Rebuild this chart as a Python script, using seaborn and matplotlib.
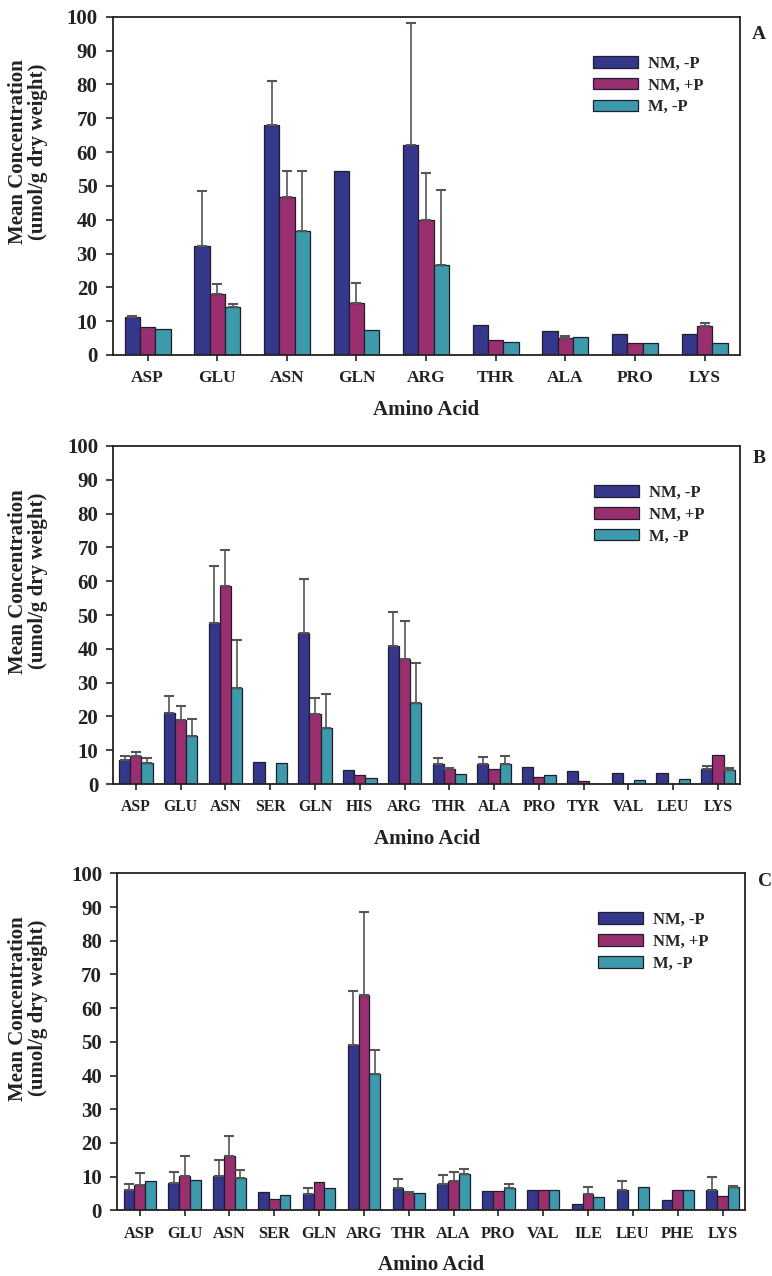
import numpy as np
import pandas as pd
import matplotlib
matplotlib.use("Agg")
import matplotlib.pyplot as plt
import seaborn as sns

sns.set_theme(style="white")
plt.rcParams['font.family'] = ['Liberation Serif', 'DejaVu Serif']
plt.rcParams['font.weight'] = 'bold'

groups = ["NM, -P", "NM, +P", "M, -P"]
colors = ["#34378a", "#9a2f70", "#3c9aab"]

# Panel A
cats_a = ["ASP", "GLU", "ASN", "GLN", "ARG", "THR", "ALA", "PRO", "LYS"]
a_nm_m = [11.2, 32.3, 68.0, 54.3, 62.0, 9.0, 7.2, 6.3, 6.3]
a_nm_p = [8.3, 18.1, 46.6, 15.4, 40.0, 4.5, 5.0, 3.5, 8.5]
a_m_m = [7.7, 14.3, 36.8, 7.4, 26.7, 3.7, 5.3, 3.5, 3.5]
a_err_nm_m = [0.3, 16.1, 13.0, 0, 36.2, 0, 0, 0, 0]
a_err_nm_p = [0, 2.9, 7.7, 5.9, 13.7, 0, 0.6, 0, 0.9]
a_err_m_m = [0, 0.7, 17.5, 0, 22.0, 0, 0, 0, 0]

# Panel B
cats_b = ["ASP", "GLU", "ASN", "SER", "GLN", "HIS", "ARG", "THR", "ALA", "PRO", "TYR", "VAL", "LEU", "LYS"]
b_nm_m = [7.1, 20.9, 47.6, 6.6, 44.8, 4.1, 40.9, 5.8, 5.8, 5.2, 4.0, 3.2, 3.4, 4.5]
b_nm_p = [8.4, 19.0, 58.7, 0.0, 20.6, 2.7, 36.9, 4.5, 4.5, 2.2, 0.8, 0.0, 0.0, 8.6]
b_m_m = [6.1, 14.2, 28.5, 6.3, 16.5, 1.7, 23.9, 3.0, 5.9, 2.7, 0.0, 1.1, 1.5, 4.2]
b_err_nm_m = [1.2, 5.1, 17.0, 0, 15.8, 0, 10.1, 2.0, 2.2, 0, 0, 0, 0, 1.0]
b_err_nm_p = [1.2, 4.2, 10.4, 0, 4.8, 0, 11.2, 0.3, 0, 0, 0, 0, 0, 0]
b_err_m_m = [1.7, 5.0, 14.1, 0, 10.1, 0, 11.8, 0, 2.5, 0, 0, 0, 0, 0.5]

# Panel C
cats_c = ["ASP", "GLU", "ASN", "SER", "GLN", "ARG", "THR", "ALA", "PRO", "VAL", "ILE", "LEU", "PHE", "LYS"]
c_nm_m = [6.1, 8.1, 10.1, 5.3, 4.7, 49.2, 6.5, 7.8, 5.6, 6.0, 1.8, 6.0, 3.0, 6.0]
c_nm_p = [7.6, 10.1, 16.0, 3.4, 8.4, 63.9, 5.2, 8.8, 5.6, 6.0, 4.9, 0.0, 6.0, 4.1]
c_m_m = [8.8, 9.1, 9.6, 4.5, 6.6, 40.6, 5.1, 10.8, 6.6, 6.0, 3.8, 7.0, 6.0, 6.8]
c_err_nm_m = [1.8, 3.2, 4.9, 0, 1.9, 15.8, 2.7, 2.8, 0, 0, 0, 2.8, 0, 3.8]
c_err_nm_p = [3.5, 6.1, 6.2, 0, 0, 24.7, 0.2, 2.5, 0, 0, 2.1, 0, 0, 0]
c_err_m_m = [0, 0, 2.3, 0, 0, 7.1, 0, 1.5, 1.2, 0, 0, 0, 0, 0.3]

# letter, cats, values, errors, axes rect, bar group width, xtick size, letter y, ylabel x
panels = [
    ("A", cats_a, [a_nm_m, a_nm_p, a_m_m], [a_err_nm_m, a_err_nm_p, a_err_m_m],
     [0.146, 0.7218, 0.812, 0.265], 0.66, 12.5, 0.947, -0.104),
    ("B", cats_b, [b_nm_m, b_nm_p, b_m_m], [b_err_nm_m, b_err_nm_p, b_err_m_m],
     [0.147, 0.3855, 0.812, 0.265], 0.75, 11.3, 0.962, -0.105),
    ("C", cats_c, [c_nm_m, c_nm_p, c_m_m], [c_err_nm_m, c_err_nm_p, c_err_m_m],
     [0.152, 0.0515, 0.813, 0.264], 0.72, 11.8, 0.976, -0.11),
]

fig = plt.figure(figsize=(7.72, 12.76), dpi=100)

for letter, cats, vals, errs, rect, w, xts, ly, ylx in panels:
    ax = fig.add_axes(rect)
    rows = []
    for g, v in zip(groups, vals):
        for c, val in zip(cats, v):
            rows.append({"aa": c, "val": val, "grp": g})
    df = pd.DataFrame(rows)
    sns.barplot(data=df, x="aa", y="val", hue="grp", order=cats, hue_order=groups,
                palette=colors, edgecolor="#1e1e2e", linewidth=0.9, width=w,
                errorbar=None, dodge=True, saturation=1, ax=ax)
    for cont, err in zip(ax.containers, errs):
        for patch, e in zip(cont.patches, err):
            if e > 0:
                x = patch.get_x() + patch.get_width() / 2
                h = patch.get_height()
                ax.errorbar([x], [h], yerr=[[0], [e]], fmt="none", ecolor="#555555",
                            elinewidth=1.2, capsize=3.5, capthick=1.5)
    ax.set_ylim(0, 100)
    ax.set_yticks(range(0, 101, 10))
    ax.set_xlim(-0.5, len(cats) - 0.5)
    for s in ax.spines.values():
        s.set_visible(True)
        s.set_color("#222222")
        s.set_linewidth(1.3)
    ax.tick_params(axis="y", direction="out", length=5, width=1.2, labelsize=15,
                   left=True, pad=6, colors="#222222")
    ax.tick_params(axis="x", direction="out", length=4, width=1.2, labelsize=xts,
                   bottom=True, pad=7, colors="#222222")
    for lab in ax.get_xticklabels() + ax.get_yticklabels():
        lab.set_fontweight("bold")
    ax.set_xlabel("Amino Acid", fontsize=15, fontweight="bold", labelpad=10, color="#222222")
    ax.set_ylabel("Mean Concentration\n(umol/g dry weight)", fontsize=15, fontweight="bold",
                  color="#222222", linespacing=1.0)
    ax.yaxis.set_label_coords(ylx, 0.6)
    handles = list(ax.containers)
    ax.legend(handles, groups, loc="upper left", bbox_to_anchor=(0.753, 0.91),
              frameon=False, handlelength=2.7, handleheight=0.7,
              labelspacing=0.35, handletextpad=0.6, borderpad=0,
              prop={"weight": "bold", "size": 12})
    ax.text(1.02, ly, letter, transform=ax.transAxes, fontsize=14, fontweight="bold",
            ha="left", va="center", color="#222222")

fig.savefig("out.png", dpi=100, facecolor="white")
